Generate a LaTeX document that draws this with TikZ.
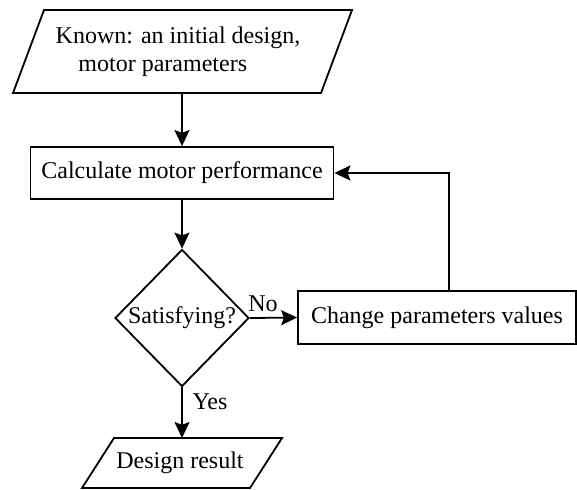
\documentclass[tikz,border=0pt]{standalone}
\usepackage{fontspec}
\setmainfont{Liberation Serif}
\usetikzlibrary{shapes.geometric,arrows.meta}
\begin{document}
\begin{tikzpicture}[x=0.5pt,y=-0.5pt,
  line width=0.9pt,
  font=\rmfamily\fontsize{12}{14}\selectfont,
  procbox/.style={draw, rectangle, inner sep=0pt, minimum height=26pt},
  decbox/.style={draw, diamond, inner sep=0pt, minimum width=67pt, minimum height=68.5pt},
  io/.style={draw, line join=miter},
  arr/.style={-{Stealth[length=8pt,width=7.5pt,inset=1.4pt]}},
  lbl/.style={inner sep=0pt}
]
\useasboundingbox (0,0) rectangle (577,489);

% input parallelogram
\draw[io] (44,10) -- (352,10) -- (321,93) -- (13,93) -- cycle;
\coordinate (inbot) at (182,93);
\node[align=left, inner sep=0pt] (known) at (178,52)
  {Known: an initial design,\\\hspace*{0.95em}motor parameters};

% calculate
\node[procbox, minimum width=151.5pt] (calc) at (182,173) {Calculate motor performance};

% decision
\node[decbox] (dec) at (182,318) {Satisfying?};

% change
\node[procbox, minimum width=139pt, minimum height=26.5pt] (change) at (437,317.5) {Change parameters values};

% output parallelogram
\draw[io] (114,438) -- (282,438) -- (250,488) -- (82,488) -- cycle;
\coordinate (outtop) at (182,438);
\node[inner sep=0pt] (result) at (180,463) {Design result};

% connectors
\draw[arr] (inbot) -- (calc.north);
\draw[arr] (calc.south) -- (dec.north);
\draw[arr] (dec.east) -- (change.west);
\draw[arr] ([xshift=6pt]change.north) |- (calc.east);
\draw[arr] (dec.south) -- (outtop);

% labels
\node[lbl] (no) at (263,304) {No};
\node[lbl] (yes) at (210,402) {Yes};
\end{tikzpicture}
\end{document}
